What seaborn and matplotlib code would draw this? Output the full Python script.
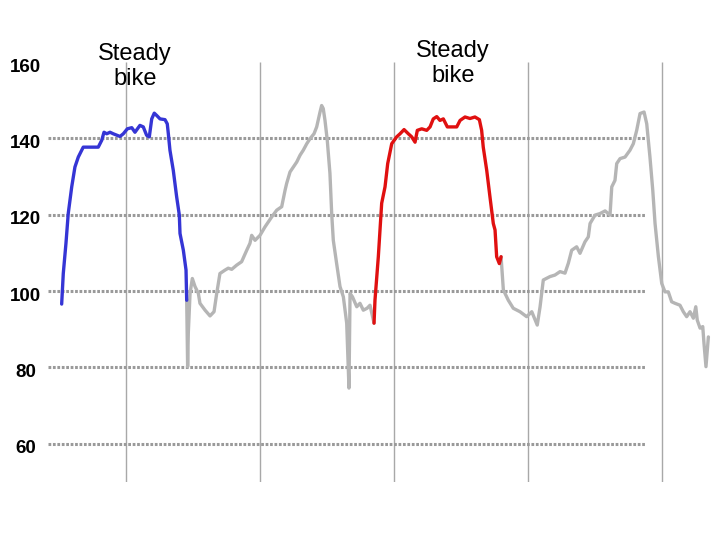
import numpy as np
import pandas as pd
import matplotlib
matplotlib.use("Agg")
import matplotlib.pyplot as plt
import matplotlib.transforms as mtransforms
import seaborn as sns

# heart rate trace (minutes, bpm)
bike1_t = [5.20, 5.32, 5.52, 5.69, 5.95, 6.19, 6.44, 6.81, 7.93, 8.19, 8.36, 8.56, 8.81, 9.05,
           9.55, 9.80, 10.10, 10.43, 10.67, 11.04, 11.29, 11.54, 11.74, 11.92, 12.11, 12.29,
           12.54, 12.91, 13.08, 13.16, 13.28, 13.53, 13.78, 13.98, 14.03, 14.28, 14.48, 14.53]
bike1_hr = [96.6, 104.6, 112.5, 120.3, 127.3, 132.5, 135.1, 137.7, 137.7, 139.5, 141.6, 141.2,
            141.6, 141.2, 140.5, 141.2, 142.5, 142.8, 141.6, 143.4, 143.0, 140.8, 140.4, 145.1,
            146.6, 146.0, 145.1, 144.9, 143.8, 141.2, 136.9, 131.6, 124.7, 119.9, 115.1, 110.7,
            105.5, 97.6]

rest1_t = [14.53, 14.60, 14.65, 14.78, 14.95, 15.15, 15.40, 15.52, 15.90, 16.27, 16.57, 16.77,
           17.01, 17.39, 17.63, 17.89, 18.26, 18.63, 19.01, 19.25, 19.38, 19.63, 20.00, 20.37,
           20.87, 21.25, 21.62, 21.87, 21.99, 22.24, 22.49, 22.74, 22.99, 23.23, 23.49, 23.73,
           24.03, 24.23, 24.48, 24.60, 24.72, 24.85, 25.02, 25.22, 25.35, 25.47, 25.72, 25.97,
           26.22, 26.47, 26.64, 26.72, 26.90, 27.22, 27.46, 27.71, 27.99, 28.21, 28.51]
rest1_hr = [97.6, 80.2, 89.0, 99.4, 103.3, 101.2, 99.4, 96.8, 95.0, 93.5, 94.6, 99.4,
            104.6, 105.5, 106.0, 105.7, 106.8, 107.7, 110.7, 112.5, 114.6, 113.3, 114.6, 116.8,
            119.4, 121.2, 122.1, 126.4, 128.2, 131.2, 132.5, 133.8, 135.6, 136.9, 138.6, 139.9,
            141.2, 143.0, 146.9, 148.6, 147.8, 144.7, 139.5, 130.8, 120.3, 113.3, 107.2, 101.2,
            98.5, 91.6, 74.6, 99.4, 98.5, 95.9, 96.8, 95.0, 95.5, 96.3, 91.6]

bike2_t = [28.51, 28.58, 28.83, 29.08, 29.33, 29.53, 29.83, 30.20, 30.45, 30.75, 31.07, 31.32,
           31.57, 31.74, 32.07, 32.44, 32.69, 32.93, 33.19, 33.43, 33.68, 33.98, 34.68, 34.93,
           35.30, 35.67, 36.04, 36.37, 36.54, 36.66, 36.92, 37.16, 37.41, 37.54, 37.66, 37.86,
           37.99]
bike2_hr = [91.6, 97.6, 109.0, 123.0, 127.3, 133.4, 138.6, 140.4, 141.2, 142.3, 141.2, 140.4,
            139.0, 142.1, 142.5, 142.1, 143.0, 145.1, 145.7, 144.7, 145.1, 143.0, 143.0, 144.7,
            145.6, 145.2, 145.6, 144.9, 142.1, 137.7, 131.6, 124.7, 117.7, 116.0, 109.0, 107.2,
            109.0]

rest2_t = [37.99, 38.16, 38.53, 38.90, 39.40, 39.90, 40.28, 40.69, 40.90, 41.14, 41.64, 42.01,
           42.39, 42.76, 43.01, 43.26, 43.63, 43.88, 44.25, 44.50, 44.63, 45.00, 45.37, 45.75,
           46.12, 46.25, 46.49, 46.62, 46.87, 47.24, 47.61, 47.86, 48.11, 48.36, 48.66, 48.86,
           49.10, 49.31, 49.48, 49.73, 49.98, 50.22, 50.47, 50.72, 50.97, 51.34, 51.59, 51.84,
           52.09, 52.34, 52.52, 52.63, 52.84, 53.04, 53.13, 53.28, 53.46]
rest2_hr = [109.0, 100.3, 97.6, 95.5, 94.6, 93.3, 94.6, 91.1, 95.9, 102.9, 103.8, 104.2,
            105.1, 104.7, 107.3, 110.7, 111.6, 109.9, 112.9, 114.2, 117.7, 119.9, 120.3, 121.0,
            119.9, 127.3, 129.0, 133.4, 134.7, 135.1, 136.9, 138.6, 142.1, 146.5, 146.9, 143.8,
            135.1, 126.4, 117.7, 109.0, 102.0, 99.8, 99.8, 97.2, 96.8, 96.3, 94.6, 93.3,
            94.6, 92.9, 95.9, 92.4, 90.3, 90.7, 86.4, 80.2, 88.0]

y_ticks = [60, 80, 100, 120, 140, 160]
grid_y = [60, 80, 100, 120, 140]
grid_x = [10, 20, 30, 40, 50]
labels = ["Steady\nbike", "Steady\nbike"]
label_x = [10.67, 34.40]
label_y = [158.8, 159.6]

frames = []
for name, t, hr in [("rest1", rest1_t, rest1_hr), ("rest2", rest2_t, rest2_hr),
                    ("bike1", bike1_t, bike1_hr), ("bike2", bike2_t, bike2_hr)]:
    frames.append(pd.DataFrame({"t": t, "hr": hr, "segment": name}))
df = pd.concat(frames, ignore_index=True)

sns.set_style("white")
plt.rcParams["font.family"] = ["Liberation Sans", "DejaVu Sans"]
plt.rcParams["text.color"] = "black"
plt.rcParams["ytick.color"] = "black"

fig = plt.figure(figsize=(7.2, 5.4), dpi=100)
ax = fig.add_axes([48 / 720, 1 - 482 / 540, 664 / 720, 420 / 540])

# grid first so the trace sits on top
ax.vlines(grid_x, 50, 160, color="#a8a8a8", lw=1.0, zorder=1)
ax.hlines(grid_y, 4.18, 48.7, color="#9a9a9a", lw=2.2, linestyles=(0, (0.9, 0.55)), zorder=1)

palette = {"rest1": "#b5b5b5", "rest2": "#b5b5b5", "bike1": "#3535d5", "bike2": "#e01010"}
sns.lineplot(data=df, x="t", y="hr", hue="segment", hue_order=["rest1", "rest2", "bike1", "bike2"],
             palette=palette, estimator=None, sort=False, legend=False, lw=2.4, ax=ax, zorder=3)

for txt, x, y in zip(labels, label_x, label_y):
    ax.text(x, y, txt, ha="center", va="center", fontsize=17, linespacing=1.15,
            color="black", clip_on=False)

ax.set_xlim(4.18, 53.73)
ax.set_ylim(50, 160)
ax.set_xticks([])
ax.set_yticks(y_ticks)
ax.set_yticklabels([str(v) for v in y_ticks], fontsize=13.5, fontweight="bold",
                   ha="center", va="center", color="black")
ax.tick_params(axis="y", length=0, pad=16)
# labels sit a few pixels below their gridline in the original
shift = mtransforms.ScaledTranslation(0, -5 / 100, fig.dpi_scale_trans)
for lab in ax.get_yticklabels():
    lab.set_transform(lab.get_transform() + shift)
ax.set_xlabel("")
ax.set_ylabel("")
sns.despine(ax=ax, left=True, bottom=True)

fig.savefig("out.png", dpi=100)
